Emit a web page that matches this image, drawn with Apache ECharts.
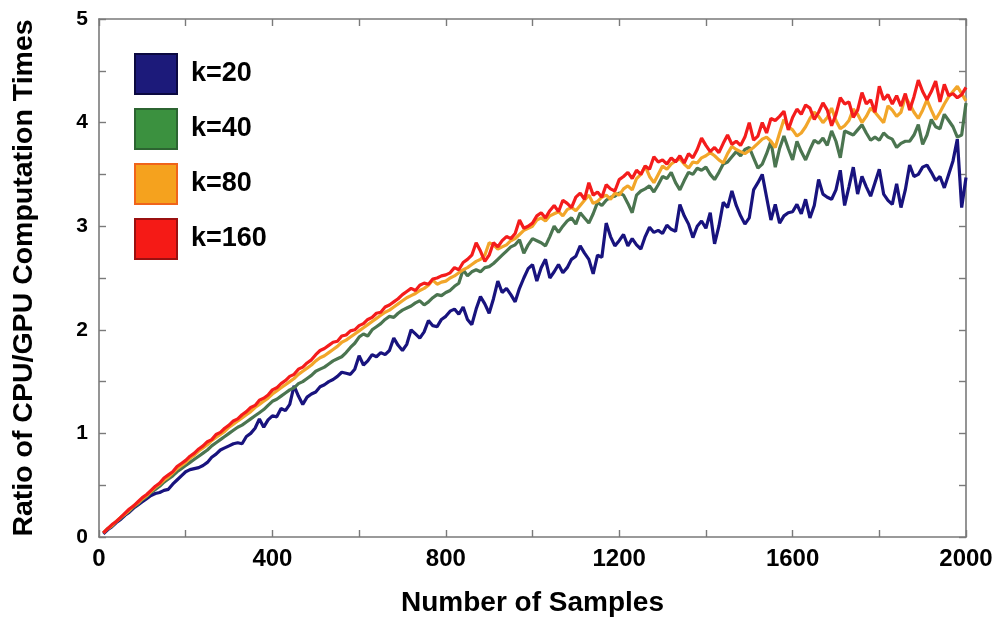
<!DOCTYPE html>
<html><head><meta charset="utf-8">
<script src="https://cdn.jsdelivr.net/npm/echarts@6/dist/echarts.min.js"></script>
<style>html,body{margin:0;padding:0;background:#fff}#c{width:998px;height:628px}</style>
</head><body><div id="c"></div>
<script>
const samples = [10,20,30,40,50,60,70,80,90,100,110,120,130,140,150,160,170,180,190,200,
210,220,230,240,250,260,270,280,290,300,310,320,330,340,350,360,370,380,390,400,
410,420,430,440,450,460,470,480,490,500,510,520,530,540,550,560,570,580,590,600,
610,620,630,640,650,660,670,680,690,700,710,720,730,740,750,760,770,780,790,800,
810,820,830,840,850,860,870,880,890,900,910,920,930,940,950,960,970,980,990,1000,
1010,1020,1030,1040,1050,1060,1070,1080,1090,1100,1110,1120,1130,1140,1150,1160,1170,1180,1190,1200,
1210,1220,1230,1240,1250,1260,1270,1280,1290,1300,1310,1320,1330,1340,1350,1360,1370,1380,1390,1400,
1410,1420,1430,1440,1450,1460,1470,1480,1490,1500,1510,1520,1530,1540,1550,1560,1570,1580,1590,1600,
1610,1620,1630,1640,1650,1660,1670,1680,1690,1700,1710,1720,1730,1740,1750,1760,1770,1780,1790,1800,
1810,1820,1830,1840,1850,1860,1870,1880,1890,1900,1910,1920,1930,1940,1950,1960,1970,1980,1990,2000];

const seriesNames = ['k=20','k=40','k=80','k=160'];

const k20 = [0.03,0.07,0.10,0.14,0.17,0.21,0.24,0.28,0.31,0.34,
0.37,0.40,0.42,0.43,0.45,0.46,0.51,0.55,0.59,0.63,
0.65,0.66,0.67,0.69,0.72,0.77,0.80,0.84,0.86,0.88,
0.90,0.91,0.90,0.97,1.00,1.05,1.14,1.06,1.13,1.17,
1.16,1.24,1.22,1.28,1.46,1.36,1.28,1.35,1.38,1.40,
1.45,1.47,1.50,1.52,1.55,1.59,1.58,1.57,1.62,1.75,
1.66,1.70,1.76,1.74,1.78,1.76,1.80,1.92,1.85,1.80,
1.86,2.00,1.96,1.92,1.98,2.09,2.04,2.03,2.10,2.13,
2.18,2.20,2.15,2.22,2.10,2.05,2.20,2.32,2.25,2.16,
2.30,2.47,2.36,2.40,2.34,2.27,2.40,2.50,2.59,2.63,
2.47,2.60,2.68,2.50,2.56,2.63,2.55,2.60,2.68,2.71,
2.81,2.74,2.68,2.54,2.72,2.70,3.03,2.90,2.81,2.86,
2.92,2.81,2.88,2.82,2.78,2.90,2.99,2.94,2.96,2.93,
3.01,2.97,2.95,3.21,3.10,3.02,2.89,3.00,3.05,2.98,
3.13,2.83,3.00,3.23,3.18,3.34,3.20,3.10,3.02,3.08,
3.35,3.42,3.50,3.28,3.06,3.21,3.03,3.10,3.13,3.14,
3.21,3.12,3.26,3.08,3.20,3.45,3.31,3.28,3.26,3.35,
3.54,3.20,3.38,3.57,3.31,3.48,3.38,3.29,3.42,3.55,
3.31,3.25,3.21,3.41,3.18,3.35,3.59,3.48,3.50,3.57,
3.59,3.52,3.44,3.48,3.37,3.50,3.63,3.84,3.18,3.47];

const k40 = [0.04,0.08,0.11,0.15,0.18,0.22,0.25,0.29,0.32,0.36,
0.39,0.43,0.46,0.49,0.53,0.56,0.59,0.63,0.66,0.69,
0.72,0.75,0.78,0.81,0.84,0.88,0.91,0.94,0.97,1.00,
1.03,1.06,1.08,1.11,1.14,1.17,1.20,1.23,1.27,1.31,
1.33,1.36,1.39,1.42,1.44,1.48,1.50,1.53,1.56,1.60,
1.62,1.64,1.67,1.70,1.72,1.74,1.78,1.83,1.87,1.93,
1.96,1.94,2.00,2.03,2.06,2.10,2.13,2.12,2.16,2.19,
2.21,2.23,2.26,2.28,2.24,2.27,2.31,2.34,2.33,2.36,
2.38,2.42,2.45,2.58,2.52,2.56,2.58,2.56,2.60,2.61,
2.64,2.68,2.72,2.76,2.80,2.82,2.87,2.74,2.82,2.88,
2.86,2.84,2.81,2.90,3.00,2.94,3.00,3.05,3.08,3.02,
3.13,3.08,3.03,3.12,3.23,3.20,3.25,3.28,3.29,3.32,
3.30,3.22,3.13,3.30,3.34,3.36,3.39,3.33,3.40,3.48,
3.46,3.52,3.42,3.35,3.44,3.52,3.50,3.56,3.54,3.57,
3.50,3.45,3.52,3.60,3.62,3.67,3.72,3.68,3.74,3.76,
3.66,3.56,3.60,3.70,3.82,3.57,3.75,3.87,3.75,3.64,
3.82,3.72,3.64,3.74,3.83,3.80,3.85,3.78,3.92,3.82,
3.66,3.92,3.90,3.88,3.93,3.98,3.90,3.83,3.86,3.83,
3.90,3.86,3.84,3.76,3.80,3.82,3.82,3.88,3.98,3.79,
3.88,4.03,3.96,3.94,4.08,4.02,3.96,3.86,3.88,4.19];

const k80 = [0.04,0.08,0.11,0.15,0.19,0.22,0.26,0.30,0.33,0.37,
0.40,0.44,0.48,0.51,0.55,0.58,0.62,0.66,0.69,0.72,
0.76,0.79,0.83,0.86,0.89,0.93,0.96,0.99,1.02,1.06,
1.09,1.12,1.15,1.18,1.21,1.25,1.28,1.31,1.34,1.38,
1.41,1.44,1.47,1.50,1.53,1.57,1.60,1.63,1.66,1.70,
1.73,1.75,1.78,1.81,1.84,1.88,1.90,1.93,1.96,1.99,
2.02,2.05,2.08,2.11,2.14,2.17,2.19,2.22,2.25,2.28,
2.31,2.33,2.35,2.38,2.40,2.43,2.48,2.44,2.46,2.47,
2.50,2.52,2.55,2.58,2.60,2.63,2.66,2.68,2.72,2.84,
2.82,2.78,2.80,2.82,2.86,2.88,2.92,2.96,2.98,3.00,
3.06,3.08,3.05,3.10,3.12,3.14,3.10,3.16,3.18,3.15,
3.20,3.25,3.30,3.22,3.24,3.28,3.30,3.26,3.32,3.30,
3.36,3.39,3.35,3.46,3.50,3.58,3.48,3.42,3.50,3.58,
3.55,3.60,3.63,3.65,3.60,3.56,3.62,3.61,3.66,3.68,
3.71,3.68,3.64,3.61,3.70,3.77,3.74,3.72,3.70,3.73,
3.76,3.80,3.84,3.86,3.82,3.76,3.90,4.03,3.96,3.93,
3.87,3.90,3.96,4.04,4.10,4.06,4.00,4.05,4.14,4.02,
3.94,3.97,4.02,4.13,4.08,4.00,4.06,4.14,4.10,4.05,
4.00,4.16,4.12,4.06,4.10,4.25,4.18,4.10,4.04,4.12,
4.22,4.12,4.03,4.10,4.18,4.25,4.30,4.35,4.28,4.21];

const k160 = [0.04,0.08,0.12,0.15,0.19,0.23,0.27,0.30,0.34,0.38,
0.41,0.45,0.49,0.52,0.57,0.60,0.63,0.68,0.71,0.74,
0.78,0.81,0.85,0.88,0.92,0.94,0.99,1.01,1.05,1.08,
1.12,1.14,1.18,1.21,1.25,1.27,1.32,1.34,1.37,1.42,
1.44,1.48,1.51,1.55,1.57,1.62,1.64,1.68,1.71,1.76,
1.80,1.82,1.85,1.88,1.89,1.94,1.95,1.99,2.00,2.04,
2.06,2.10,2.12,2.16,2.17,2.22,2.24,2.27,2.30,2.34,
2.37,2.40,2.38,2.43,2.45,2.44,2.49,2.50,2.52,2.53,
2.55,2.60,2.58,2.65,2.68,2.72,2.84,2.76,2.66,2.72,
2.84,2.80,2.86,2.90,2.88,2.93,3.06,2.98,3.00,3.03,
3.10,3.13,3.08,3.15,3.20,3.14,3.25,3.22,3.18,3.28,
3.32,3.26,3.42,3.30,3.33,3.28,3.40,3.36,3.34,3.45,
3.48,3.52,3.46,3.54,3.50,3.58,3.55,3.67,3.62,3.64,
3.60,3.66,3.62,3.68,3.61,3.70,3.66,3.74,3.85,3.78,
3.72,3.76,3.71,3.80,3.88,3.79,3.82,3.78,3.86,4.00,
3.83,3.87,4.00,3.90,4.04,4.02,4.06,4.11,3.93,4.05,
4.13,4.08,4.17,4.14,4.03,4.10,4.19,4.12,3.97,4.08,
4.24,4.18,4.20,4.05,4.12,4.29,4.18,4.22,4.10,4.35,
4.22,4.27,4.18,4.26,4.16,4.28,4.12,4.25,4.41,4.30,
4.22,4.30,4.40,4.20,4.37,4.26,4.28,4.24,4.27,4.34];

const xLabelTicks = [0,400,800,1200,1600,2000];
const yLabelTicks = [0,1,2,3,4,5];

const lineColors = ['#18137e','#4b7550','#f2a62a','#f41c1c'];
const boxFill = ['#1c1a7a','#3b913f','#f5a21e','#f51a16'];
const boxBorder = ['#0b0940','#2c6431','#f0641a','#9a1010'];
const allData = [k20,k40,k80,k160];

const FONT = '"Liberation Sans", Arial, Helvetica, sans-serif';
const axisColor = '#7a7a7a';

function pairs(arr){ return samples.map((s,i)=>[s,arr[i]]); }

const chart = echarts.init(document.getElementById('c'), null, {renderer:'canvas'});
const baseX = {
  type:'value', min:0, max:2000, interval:200,
  axisLine:{show:true, onZero:false, lineStyle:{color:axisColor, width:1.6}},
  axisTick:{show:true, inside:true, length:7, lineStyle:{color:axisColor, width:1.4}},
  splitLine:{show:false}
};
const baseY = {
  type:'value', min:0, max:5, interval:0.5,
  axisLine:{show:true, onZero:false, lineStyle:{color:axisColor, width:1.6}},
  axisTick:{show:true, inside:true, length:7, lineStyle:{color:axisColor, width:1.4}},
  splitLine:{show:false}
};

chart.setOption({
  animation:false,
  backgroundColor:'#ffffff',
  grid:{left:99, right:32, top:19, bottom:91, containLabel:false},
  legend:{
    orient:'vertical', left:134, top:53, padding:0, itemWidth:42, itemHeight:40, itemGap:13,
    icon:'rect', selectedMode:false,
    textStyle:{fontFamily:FONT, fontSize:27, fontWeight:'bold', color:'#000', padding:[0,0,0,9]},
    data: seriesNames.map((n,i)=>({name:n, icon:'rect', itemStyle:{color:boxFill[i], borderColor:boxBorder[i], borderWidth:2}}))
  },
  xAxis:[
    Object.assign({}, baseX, {
      position:'bottom',
      name:'Number of Samples', nameLocation:'middle', nameGap:52,
      nameTextStyle:{fontFamily:FONT, fontSize:28, fontWeight:'bold', color:'#000'},
      axisLabel:{show:true, margin:10, fontFamily:FONT, fontSize:24, fontWeight:'bold', color:'#000',
        formatter:v=> xLabelTicks.indexOf(v)>=0 ? String(v) : ''}
    }),
    Object.assign({}, baseX, {position:'top', axisLabel:{show:false}})
  ],
  yAxis:[
    Object.assign({}, baseY, {
      position:'left',
      name:'Ratio of CPU/GPU Computation Times', nameLocation:'middle', nameGap:60,
      nameTextStyle:{fontFamily:FONT, fontSize:28.5, fontWeight:'bold', color:'#000'},
      axisLabel:{show:true, margin:11, fontFamily:FONT, fontSize:21, fontWeight:'bold', color:'#000',
        formatter:v=> yLabelTicks.indexOf(v)>=0 ? String(v) : ''}
    }),
    Object.assign({}, baseY, {position:'right', axisLabel:{show:false}})
  ],
  series: seriesNames.map((n,i)=>({
    name:n, type:'line', xAxisIndex:0, yAxisIndex:0,
    data:pairs(allData[i]), showSymbol:false, symbol:'none',
    lineStyle:{color:lineColors[i], width:3.2},
    itemStyle:{color:boxFill[i], borderColor:boxBorder[i], borderWidth:2},
    z:2+i
  }))
});
</script></body></html>
